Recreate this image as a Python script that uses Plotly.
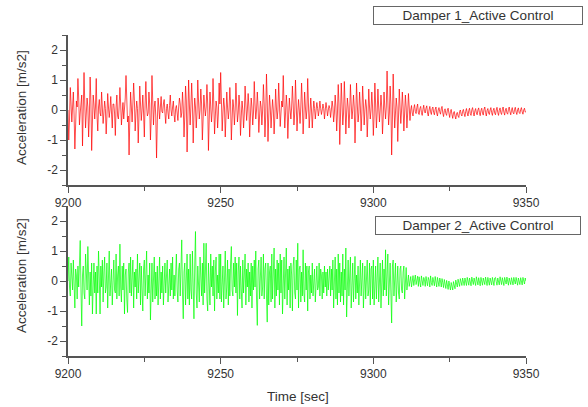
import plotly.graph_objects as go

# ---------------- data (0.25 s samples) ----------------
t_start = 9200.0
t_end = 9350.0

damper1_acc = [
    0.0, -1.0, -0.3, 0.75, 0.2, -0.4, 0.1, 0.6, -0.2, -1.3, -0.5, 0.3, 0.1, 1.05, 0.4, -0.5, -0.1, 0.2, 0.5, -1.2,
    -0.3, 1.25, 0.2, -0.6, -0.1, 0.4, 0.1, -0.9, -0.2, 1.1, 0.3, -1.35, -0.4, 0.5, 0.2, -0.3, 0.1, 1.05, -0.2, -0.7,
    0.1, 0.35, -0.1, -0.2, 0.6, 0.2, -0.45, -0.1, 0.3, 0.05, -0.8, -0.2, 0.55, 0.1, -0.25, 0.0, 0.45, -0.1, -0.6, 0.2,
    0.2, -0.1, -0.85, 0.1, 0.5, -0.2, -0.3, 0.1, 0.75, 0.2, -0.5, -0.1, 0.25, -0.3, 0.0, 0.4, 1.15, 0.1, -0.4, -0.2,
    -1.5, -0.3, 0.6, 0.1, -0.4, 0.2, 0.9, 0.3, -0.7, -0.1, 0.3, 0.05, -1.1, -0.2, 0.8, 0.2, -0.35, 0.0, 0.5, -0.1,
    -0.9, 0.2, 0.95, 0.1, -0.2, -0.1, 0.6, 0.2, -1.0, -0.3, 1.15, 0.3, -0.5, 0.1, 0.3, -0.2, -1.6, -0.4, 0.4, 0.1,
    -0.3, 0.1, 0.45, -0.05, -0.1, 0.2, 0.35, -0.1, -0.45, 0.05, 0.2, -0.1, -0.3, 0.15, 0.5, 0.0, -0.2, 0.1, 0.3, -0.15,
    -0.4, 0.05, 0.15, -0.1, -0.35, 0.1, 0.4, 0.2, -0.25, -0.1, 0.6, 0.1, -0.9, -0.2, 0.8, 0.3, -1.4, -0.3, 1.0, 0.2,
    -0.5, 0.1, 0.9, 0.2, -1.1, -0.2, 0.4, 0.1, -0.6, -0.1, 1.0, 0.3, -0.3, 0.0, 0.7, 0.2, -1.0, -0.3, 0.5, 0.1,
    -0.2, 0.1, 0.85, 0.2, -1.35, -0.3, 0.6, 0.1, -0.4, 0.0, 1.05, 0.2, -0.8, -0.2, 0.3, 0.1, -0.6, -0.1, 0.9, 0.2,
    1.25, 0.3, -0.7, -0.1, 0.4, 0.1, -0.9, -0.2, 0.6, 0.1, -0.3, 0.0, 0.75, 0.2, -1.0, -0.3, 0.35, 0.1, -0.5, 0.0,
    0.9, 0.2, -0.4, -0.1, 0.5, 0.1, -0.85, -0.2, 0.3, 0.0, -0.6, -0.1, 0.8, 0.2, -0.35, 0.0, 0.55, 0.1, -0.9, -0.2,
    0.4, 0.1, -0.5, -0.1, 0.95, 0.2, -0.3, 0.0, 0.6, 0.1, -0.75, -0.2, 0.3, 0.1, -0.5, 0.0, 0.85, 0.2, -0.9, -0.2,
    1.2, 0.3, -1.05, -0.2, 0.5, 0.1, -0.6, -0.1, 0.35, 0.0, -0.8, -0.2, 0.7, 0.1, -0.3, 0.0, 0.9, 0.2, -0.55, -0.1,
    0.3, 0.1, 1.15, 0.2, -0.6, -0.1, 0.5, 0.1, -0.95, -0.2, 0.4, 0.0, -0.3, 0.1, 0.8, 0.2, -0.5, -0.1, 1.0, 0.2,
    -0.7, -0.1, 0.35, 0.0, -0.45, 0.1, 0.9, 0.2, -0.8, -0.2, 0.6, 0.1, -0.3, 0.0, 1.05, 0.2, -0.6, -0.1, 0.4, 0.0,
    -0.6, -0.1, 0.3, 0.05, -0.3, 0.0, 0.25, 0.05, -0.2, 0.0, 0.3, 0.05, -0.15, 0.0, 0.2, 0.05, -0.3, 0.0, 0.25, 0.05,
    -0.2, 0.0, 0.15, 0.05, -0.25, 0.0, 0.3, 0.1, -0.4, -0.1, 0.5, 0.1, -0.7, -0.1, 0.85, 0.2, -1.15, -0.2, 0.9, 0.2,
    -0.5, -0.1, 0.95, 0.2, -0.8, -0.1, 0.4, 0.1, -0.6, -0.1, 0.85, 0.2, -0.3, 0.0, 0.5, 0.1, -1.1, -0.2, 0.9, 0.2,
    -0.4, -0.1, 0.6, 0.1, -0.7, -0.1, 0.8, 0.2, -0.5, 0.0, 0.35, 0.1, -0.9, -0.2, 0.7, 0.1, -0.3, 0.0, 0.6, 0.1,
    -0.85, -0.2, 0.9, 0.2, -0.6, -0.1, 0.7, 0.1, -0.4, 0.0, 0.5, 0.1, -0.8, -0.2, 0.6, 0.1, -0.3, 0.1, 1.3, 0.3,
    -0.5, -0.1, 0.8, 0.2, -1.5, -0.3, 1.2, 0.2, -0.6, -0.1, 0.4, 0.1, -1.05, -0.2, 0.7, 0.1, -0.45, 0.0, 0.6, 0.1,
    -0.7, -0.1, 0.5, 0.1, -0.6, -0.1, 0.55, 0.1, -0.35, 0.0, 0.15, -0.1, -0.2, 0.05, 0.18, -0.05, -0.12, 0.08, 0.2, -0.1,
    -0.15, 0.05, 0.12, -0.08, -0.18, 0.02, 0.16, -0.05, -0.1, 0.06, 0.14, -0.1, -0.2, 0.0, 0.12, -0.06, -0.15, 0.04, 0.1, -0.08,
    -0.16, 0.02, 0.1, -0.1, -0.2, 0.0, 0.08, -0.06, -0.14, 0.04, 0.12, -0.1, -0.22, -0.02, 0.04, -0.12, -0.18, 0.0, 0.06, -0.1,
    -0.25, -0.05, 0.02, -0.15, -0.28, -0.1, -0.05, -0.2, -0.3, -0.12, -0.08, -0.2, -0.25, -0.05, 0.0, -0.14, -0.2, -0.04, 0.02, -0.12,
    -0.22, -0.05, 0.05, -0.1, -0.2, -0.02, 0.06, -0.12, -0.18, 0.0, 0.08, -0.08, -0.2, -0.03, 0.05, -0.1, -0.16, 0.0, 0.07, -0.09,
    -0.19, -0.02, 0.06, -0.1, -0.17, 0.02, 0.1, -0.08, -0.2, -0.02, 0.05, -0.1, -0.15, 0.0, 0.08, -0.09, -0.18, -0.01, 0.06, -0.1,
    -0.16, 0.0, 0.09, -0.08, -0.18, -0.01, 0.07, -0.09, -0.15, 0.01, 0.1, -0.07, -0.17, 0.0, 0.06, -0.1, -0.14, 0.02, 0.1, -0.06,
    -0.16, -0.01, 0.08, -0.08, -0.13, 0.02, 0.09, -0.07, -0.15, 0.0, 0.07, -0.08, -0.12, 0.01, 0.08, -0.06, -0.14, 0.0, 0.06, -0.07,
    -0.05,
]

damper2_acc = [
    0.0, 0.8, -0.2, -0.5, 0.6, 0.1, -0.3, 0.7, -0.4, -0.9, 0.4, 0.2, -0.6, 0.5, -0.2, 0.9, 1.35, -0.3, -1.5, 0.2,
    0.5, -0.4, -0.6, 0.9, 0.3, -0.3, 1.15, 0.2, -0.8, 0.3, -0.5, 0.6, -1.1, -0.2, 0.6, -0.4, 0.3, -1.1, 0.5, -0.4,
    1.0, 0.1, -1.1, 0.5, -0.2, 0.7, -0.7, 0.3, 0.8, -0.4, -0.2, 0.6, -0.9, 0.1, 1.0, -0.5, 0.2, 0.4, -0.8, 0.3,
    0.7, -0.3, -0.4, 0.9, -0.6, 0.2, 0.5, -0.5, 1.23, -0.2, -0.7, 0.5, -0.3, 0.6, -1.1, 0.2, 0.4, -0.6, -1.05, 0.3,
    0.6, -0.4, 0.8, -0.5, 0.2, 0.7, -0.9, 0.3, -0.2, 0.4, -0.6, 0.9, -0.4, 0.1, 0.6, -0.8, 0.5, -0.3, -1.0, 0.4,
    0.7, -0.5, 0.3, 1.0, -0.6, 0.2, -0.4, 0.6, -1.3, 0.4, 0.6, -0.7, 0.2, 0.8, -0.6, 0.3, -0.5, 0.5, -0.8, 0.2,
    0.8, -0.6, 0.3, -0.4, 0.5, -0.8, 0.2, 0.6, -0.4, 0.3, 0.7, -0.7, -0.2, 0.4, -0.5, 0.6, -0.3, 0.8, -0.6, 0.2,
    -0.5, 0.5, 0.9, -0.3, -0.7, 0.4, 0.6, -0.5, 0.2, 1.37, -0.4, -1.26, 0.3, 0.6, -0.8, 0.2, 0.9, -0.6, 0.4, -0.8,
    0.9, -0.3, -0.6, 1.0, -0.2, -1.26, 0.5, 1.65, -0.4, -0.9, 0.5, -0.3, -0.7, 0.8, -0.2, -0.5, 0.6, -0.8, 1.26, -0.4,
    0.3, 1.26, -0.6, -1.0, 0.6, -0.3, -0.8, 0.9, -0.2, 0.5, -0.5, 0.7, -1.0, 0.3, 0.8, -0.6, 0.2, -0.4, 0.9, -0.6,
    0.9, -0.7, 0.3, 0.5, -0.9, 0.2, 1.0, -0.6, -0.2, 0.7, -0.8, 0.4, -0.5, 0.6, 1.15, -0.3, -0.5, 0.6, -0.2, 0.8,
    -0.4, 0.6, -1.15, 0.3, 0.8, -0.6, 0.5, -0.3, -0.9, 0.7, -0.4, 0.2, 0.9, -0.8, 0.4, -0.2, 0.6, -0.7, 0.3, -0.5,
    0.6, -0.9, 0.5, -0.3, 0.7, -0.2, 1.0, -0.6, -1.48, 0.4, 0.7, -0.6, 0.3, 0.8, -0.5, -0.2, 0.9, -0.6, 0.4, 0.6,
    -0.5, -1.37, 0.6, -0.8, 0.3, 0.5, -0.7, 0.9, -0.6, 0.2, 1.1, -0.9, 0.4, -0.5, 0.7, -0.3, 0.6, -0.8, 0.9, -0.4,
    0.7, -1.1, 0.3, 0.8, -0.6, 0.2, 1.1, -0.8, 0.4, -0.3, 0.5, -0.9, 0.6, 0.2, -1.0, 0.5, 0.8, -0.4, -0.6, 0.7,
    -0.3, 1.26, -0.9, 0.4, 0.5, -0.7, 0.3, -0.5, 1.04, -0.4, -0.7, 0.6, -0.3, 0.5, -1.0, 0.3, 0.5, -0.6, 0.2, -0.4,
    0.6, -0.5, 0.2, 0.4, -0.7, 0.3, 0.5, -0.3, -0.2, 0.6, -0.5, 0.4, 0.2, -0.6, 0.3, -0.4, 0.5, -0.2, 0.3, -0.5,
    0.4, -0.3, 0.2, 0.5, -0.5, 0.4, -0.3, 0.7, -0.9, 0.3, 0.8, -0.6, 0.4, -0.8, 0.9, -0.4, 0.6, -0.7, 0.3, -0.5,
    0.9, -0.8, 0.4, -0.3, 1.1, -1.2, 0.3, 0.7, -0.5, 0.2, 0.8, -0.9, 0.4, 0.6, -0.7, 0.3, 0.82, -0.6, 0.2, -0.4,
    0.5, -0.8, 0.3, 0.7, -0.5, 0.2, 0.6, -0.9, 0.4, 0.5, -0.6, 0.3, 0.7, -0.5, -0.3, 0.6, -0.8, 0.4, 0.5, -0.6,
    0.7, -0.8, 0.2, 0.5, -0.6, 0.4, 0.8, -0.7, 0.3, 0.6, -0.9, 0.2, 0.7, -0.5, 0.4, -0.3, 1.04, -0.5, 0.2, 0.9,
    -0.8, 0.3, 0.6, -0.4, -1.4, 0.5, 0.7, -0.5, 0.2, 0.6, -0.7, 0.3, 0.5, -0.4, -0.6, 0.4, 0.5, -0.3, -0.4, 0.3,
    0.5, -0.6, 0.3, 0.45, -0.3, 0.1, 0.2, -0.18, 0.05, 0.15, -0.2, 0.02, 0.18, -0.15, 0.05, 0.2, -0.12, 0.0, 0.16, -0.18,
    0.14, -0.05, -0.2, 0.17, 0.0, -0.15, 0.12, 0.05, -0.18, 0.15, -0.02, -0.16, 0.12, 0.03, -0.2, 0.17, -0.05, -0.15, 0.12, 0.0,
    -0.16, 0.15, 0.02, -0.2, 0.12, -0.05, -0.18, 0.1, 0.0, -0.2, 0.08, -0.06, -0.22, 0.05, -0.08, -0.25, 0.02, -0.1, -0.28, 0.0,
    -0.12, -0.3, -0.05, -0.15, -0.3, -0.02, -0.18, -0.26, 0.03, -0.1, -0.2, 0.06, -0.05, -0.18, 0.08, -0.02, -0.15, 0.1, -0.04, -0.15,
    0.1, -0.02, -0.15, 0.12, 0.0, -0.14, 0.1, -0.03, -0.16, 0.13, 0.01, -0.12, 0.1, -0.04, -0.15, 0.14, 0.0, -0.13, 0.11, -0.02,
    -0.16, 0.12, 0.02, -0.14, 0.1, -0.03, -0.12, 0.13, 0.0, -0.15, 0.12, -0.02, -0.14, 0.1, 0.01, -0.13, 0.12, -0.03, -0.15, 0.1,
    0.12, -0.02, -0.14, 0.1, 0.01, -0.13, 0.14, -0.02, -0.12, 0.11, 0.0, -0.15, 0.12, -0.03, -0.1, 0.13, 0.01, -0.14, 0.1, -0.02,
    -0.12, 0.11, 0.0, -0.13, 0.12, -0.02, -0.1, 0.12, 0.01, -0.14, 0.1, -0.03, -0.12, 0.11, 0.0, -0.13, 0.12, -0.02, -0.1, 0.1,
    0.0,
]

series_names = ["Damper 1_Active Control", "Damper 2_Active Control"]
series_colors = ["#ff0000", "#00ff00"]

x_tick_vals = [9200, 9250, 9300, 9350]
x_tick_text = ["9200", "9250", "9300", "9350"]
y_tick_vals = [-2, -1, 0, 1, 2]
y_tick_text = ["-2", "-1", "0", "1", "2"]

y_title = "Acceleration [m/s2]"
x_title = "Time [sec]"


def time_axis(values):
    n = len(values)
    step = (t_end - t_start) / (n - 1)
    return [t_start + i * step for i in range(n)]


# ---------------- figure ----------------
W, H = 588, 407
ML, MR, MT, MB = 68, 62, 35, 51
plot_h = H - MT - MB
plot_w = W - ML - MR
top_dom = [(H - MB - 185) / plot_h, 1.0]
bot_dom = [0.0, (H - MB - 206) / plot_h]

FONT = "Liberation Sans, Arial, sans-serif"

fig = go.Figure()
fig.add_trace(go.Scatter(x=time_axis(damper1_acc), y=damper1_acc, mode="lines",
                         line=dict(color=series_colors[0], width=0.7),
                         name=series_names[0], xaxis="x", yaxis="y"))
fig.add_trace(go.Scatter(x=time_axis(damper2_acc), y=damper2_acc, mode="lines",
                         line=dict(color=series_colors[1], width=0.7),
                         name=series_names[1], xaxis="x2", yaxis="y2"))

axis_common = dict(
    showline=True, linecolor="#555555", linewidth=1.5, mirror=False,
    showgrid=False, zeroline=False,
    ticks="outside", ticklen=6, tickwidth=1.2, tickcolor="#555555",
    tickfont=dict(family=FONT, size=12, color="#333333"),
)

xaxis_cfg = dict(axis_common, range=[t_start, t_end], tickvals=x_tick_vals, ticktext=x_tick_text,
                 minor=dict(ticks="outside", ticklen=4, tickwidth=1.2, tickcolor="#555555", dtick=25,
                            showgrid=False, tick0=9200))
yaxis_cfg = dict(axis_common, range=[-2.5, 2.5], tickvals=y_tick_vals, ticktext=y_tick_text,
                 minor=dict(ticks="outside", ticklen=4, tickwidth=1.2, tickcolor="#555555", dtick=0.5,
                            showgrid=False, tick0=0))

fig.update_layout(
    width=W, height=H,
    margin=dict(l=ML, r=MR, t=MT, b=MB),
    paper_bgcolor="white", plot_bgcolor="white",
    showlegend=False,
    xaxis=dict(xaxis_cfg, domain=[0, 1], anchor="y"),
    yaxis=dict(yaxis_cfg, domain=top_dom, anchor="x"),
    xaxis2=dict(xaxis_cfg, domain=[0, 1], anchor="y2"),
    yaxis2=dict(yaxis_cfg, domain=bot_dom, anchor="x2"),
    font=dict(family=FONT, color="#333333"),
)


def px_x(p):
    return (p - ML) / plot_w


def px_y(p):
    return (H - MB - p) / plot_h


annots = [
    dict(text=y_title, x=px_x(21), y=px_y(108), textangle=-90),
    dict(text=y_title, x=px_x(21), y=px_y(276), textangle=-90),
    dict(text=x_title, x=px_x(298), y=px_y(397)),
]
for a in annots:
    a.update(xref="paper", yref="paper", xanchor="center", yanchor="middle", showarrow=False,
             font=dict(family=FONT, size=13.5, color="#333333"))
    fig.add_annotation(**a)

# legend-like text boxes
boxes = [
    (series_names[0], 373, 6, 210),
    (series_names[1], 375, 216, 206),
]
for name, bx, by, bw in boxes:
    fig.add_annotation(
        text=name, xref="paper", yref="paper",
        x=px_x(bx), y=px_y(by), xanchor="left", yanchor="top",
        showarrow=False, width=bw - 4, borderpad=1,
        bordercolor="#666666", borderwidth=1, bgcolor="white", align="center",
        font=dict(family=FONT, size=13.5, color="#333333"),
    )

fig.write_html("out.html",
               config={"displayModeBar": False},
               post_script="document.body.style.margin='0';document.body.style.padding='0';")
